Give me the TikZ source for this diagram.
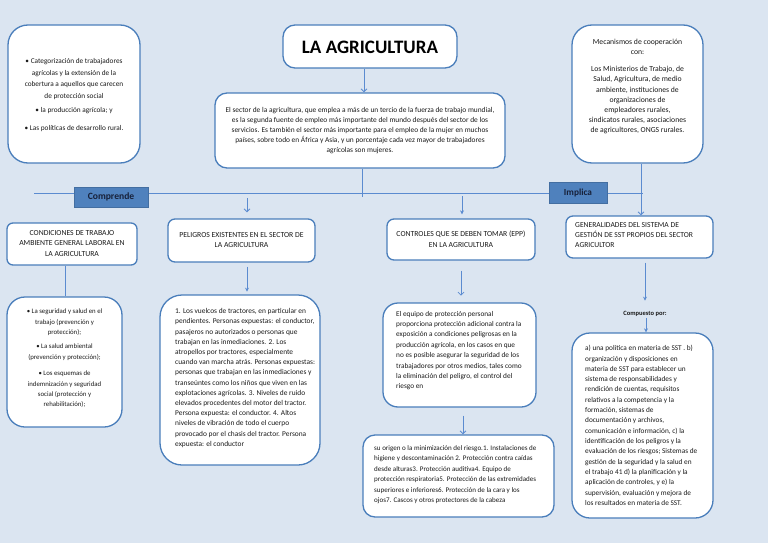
\documentclass[tikz,border=0pt]{standalone}
\usepackage{fontspec}
\setmainfont{Carlito}
\usetikzlibrary{arrows.meta}
\definecolor{bg}{HTML}{DBE5F1}
\definecolor{bd}{HTML}{4A7EBB}
\definecolor{ln}{HTML}{5B8BD0}
\definecolor{lab}{HTML}{4F81BD}
\definecolor{tx}{HTML}{1A1A1A}
\definecolor{labtx}{HTML}{17213A}
\begin{document}
\begin{tikzpicture}[x=1pt,y=-1pt,
  box/.style={draw=bd, line width=1.3pt, fill=white, rounded corners=#1, inner sep=0pt},
  box/.default=8pt,
  labbox/.style={fill=lab, draw=lab!85!black, line width=0.4pt, inner sep=0pt, text=labtx},
  txt/.style 2 args={inner sep=0pt, text=tx, font=\fontsize{#1}{#2}\selectfont},
  conn/.style={draw=ln, line width=0.8pt},
  arro/.style={conn, -{Straight Barb[length=3pt,width=6pt]}},
  arrf/.style={conn, -{Stealth[length=4pt,width=4pt]}}
]
\fill[bg] (0,0) rectangle (768,543);
\useasboundingbox (0,0) rectangle (768,543);

% boxes
\node[box=20pt, minimum width=132pt, minimum height=138pt] (tl) at (74,94) {};
\node[box=12pt, minimum width=174pt, minimum height=43pt] (title) at (370,46.5) {};
\node[box=12pt, minimum width=290pt, minimum height=75pt] (central) at (360,130.5) {};
\node[box=20pt, minimum width=131pt, minimum height=138pt] (tr) at (637.5,94) {};
\node[box=6pt, minimum width=130pt, minimum height=42pt] (cond) at (72,244) {};
\node[box=7pt, minimum width=147pt, minimum height=43pt] (pel) at (241.5,240.5) {};
\node[box=7pt, minimum width=148pt, minimum height=41pt] (ctrl) at (461,239.5) {};
\node[box=7pt, minimum width=147pt, minimum height=42pt] (gen) at (639.5,237) {};
\node[box=18pt, minimum width=115pt, minimum height=130pt] (seg) at (64.5,362) {};
\node[box=22pt, minimum width=160pt, minimum height=170pt] (peltx) at (240,380) {};
\node[box=15pt, minimum width=153pt, minimum height=104pt] (epp) at (459.5,355) {};
\node[box=12pt, minimum width=191pt, minimum height=82pt] (bot) at (458.5,476) {};
\node[box=18pt, minimum width=141pt, minimum height=185pt] (sst) at (642.5,425.5) {};

% horizontal bar
\coordinate (hl) at (34,193);
\coordinate (hr) at (643,193);
\draw[conn] (hl) -- (hr);
\coordinate (cdrop) at (362,197);
\draw[conn] (central.south -| cdrop) -- (cdrop);

\node[labbox, minimum width=74pt, minimum height=20pt, font=\fontsize{9.6}{11}\selectfont\bfseries] (comprende) at (111,197) {Comprende};
\node[labbox, minimum width=58pt, minimum height=21pt, font=\fontsize{9.3}{11}\selectfont\bfseries] (implica) at (578,192.5) {Implica};

% texts
\node[txt={7.3}{11.5}, align=center] (tl-t) at (74,95) {%
• Categorización de trabajadores\\agrícolas y la extensión de la\\cobertura a aquellos que carecen\\de protección social\\[3pt]%
• la producción agrícola; y\\[6pt]%
• Las políticas de desarrollo rural.};

\node[inner sep=0pt, text=black, font=\fontsize{19}{21}\selectfont\bfseries] (title-t) at (370,47) {LA AGRICULTURA};

\node[txt={7.4}{10.2}, align=center] (central-t) at (360,130.5) {%
El sector de la agricultura, que emplea a más de un tercio de la fuerza de trabajo mundial,\\
es la segunda fuente de empleo más importante del mundo después del sector de los\\
servicios. Es también el sector más importante para el empleo de la mujer en muchos\\
países, sobre todo en África y Asia, y un porcentaje cada vez mayor de trabajadores\\
agrícolas son mujeres.};

\node[txt={7.7}{10.1}, align=center] (tr-t) at (637.5,86.5) {%
Mecanismos de cooperación\\con:\\[7pt]%
Los Ministerios de Trabajo, de\\Salud, Agricultura, de medio\\ambiente, instituciones de\\organizaciones de\\empleadores rurales,\\sindicatos rurales, asociaciones\\de agricultores, ONGS rurales.};

\node[txt={7.7}{10.5}, align=center] (cond-t) at (72,243.5) {CONDICIONES DE TRABAJO\\AMBIENTE GENERAL LABORAL EN\\LA AGRICULTURA};
\node[txt={7.7}{10.5}, align=center] (pel-t) at (241.5,240) {PELIGROS EXISTENTES EN EL SECTOR DE\\LA AGRICULTURA};
\node[txt={7.7}{10.5}, align=center] (ctrl-t) at (461,239) {CONTROLES QUE SE DEBEN TOMAR (EPP)\\EN LA AGRICULTURA};
\node[txt={7.6}{10.2}, align=left, anchor=west] (gen-t) at (575,235) {GENERALIDADES DEL SISTEMA DE\\GESTIÓN DE SST PROPIOS DEL SECTOR\\AGRICULTOR};

\node[txt={6.8}{10.3}, align=center] (seg-t) at (64.5,358.5) {%
• La seguridad y salud en el\\trabajo (prevención y\\protección);\\[4pt]%
• La salud ambiental\\(prevención y protección);\\[6.5pt]%
• Los esquemas de\\indemnización y seguridad\\social (protección y\\rehabilitación);};

\node[txt={7.4}{10.2}, align=left, anchor=west] (peltx-t) at (175,378) {%
1. Los vuelcos de tractores, en particular en\\
pendientes. Personas expuestas: el conductor,\\
pasajeros no autorizados o personas que\\
trabajan en las inmediaciones. 2. Los\\
atropellos por tractores, especialmente\\
cuando van marcha atrás. Personas expuestas:\\
personas que trabajan en las inmediaciones y\\
transeúntes como los niños que viven en las\\
explotaciones agrícolas. 3. Niveles de ruido\\
elevados procedentes del motor del tractor.\\
Persona expuesta: el conductor. 4. Altos\\
niveles de vibración de todo el cuerpo\\
provocado por el chasis del tractor. Persona\\
expuesta: el conductor};

\node[txt={7.3}{10.4}, align=left, anchor=west] (epp-t) at (396,350.5) {%
El equipo de protección personal\\
proporciona protección adicional contra la\\
exposición a condiciones peligrosas en la\\
producción agrícola, en los casos en que\\
no es posible asegurar la seguridad de los\\
trabajadores por otros medios, tales como\\
la eliminación del peligro, el control del\\
riesgo en};

\node[txt={7.05}{10.5}, align=left, anchor=west] (bot-t) at (374,474.5) {%
su origen o la minimización del riesgo.1. Instalaciones de\\
higiene y descontaminación 2. Protección contra caídas\\
desde alturas3. Protección auditiva4. Equipo de\\
protección respiratoria5. Protección de las extremidades\\
superiores e inferiores6. Protección de la cara y los\\
ojos7. Cascos y otros protectores de la cabeza};

\node[txt={7.3}{10.33}, align=left, anchor=west] (sst-t) at (585,425.5) {%
a) una política en materia de SST . b)\\
organización y disposiciones en\\
materia de SST para establecer un\\
sistema de responsabilidades y\\
rendición de cuentas, requisitos\\
relativos a la competencia y la\\
formación, sistemas de\\
documentación y archivos,\\
comunicación e información, c) la\\
identificación de los peligros y la\\
evaluación de los riesgos; Sistemas de\\
gestión de la seguridad y la salud en\\
el trabajo 41 d) la planificación y la\\
aplicación de controles, y e) la\\
supervisión, evaluación y mejora de\\
los resultados en materia de SST.};

\node[inner sep=0pt, text=tx, font=\fontsize{6.5}{7}\selectfont\bfseries] (comp) at (645,314) {Compuesto por:};

% connectors
\coordinate (xa) at (364,0);
\coordinate (xb) at (641,0);
\coordinate (xc) at (247,0);
\coordinate (xd) at (462,0);
\coordinate (xe) at (65,0);
\coordinate (xf) at (461,0);
\coordinate (xg) at (463,0);
\coordinate (xh) at (645,0);
\coordinate (xi) at (646,0);
\draw[arro] (title.south -| xa) -- (central.north -| xa);
\draw[arro] (tr.south -| xb) -- (gen.north -| xb);
\draw[arro] (pel.north -| xc) ++(0,-20) -- ++(0,14);
\draw[arrf] (ctrl.north -| xd) ++(0,-22) -- ++(0,18);
\draw[conn] (cond.south -| xe) -- (seg.north -| xe);
\draw[arrf] (pel.south -| xc) ++(0,4) -- ++(0,25);
\draw[arro] (ctrl.south -| xf) ++(0,10) -- ++(0,25);
\draw[arro] (epp.south -| xg) ++(0,8) -- (bot.north -| xg);
\draw[arrf] (gen.south -| xh) ++(0,4) -- ++(0,38);
\draw[arrf] (comp.south -| xi) ++(0,1) -- (sst.north -| xi);
\end{tikzpicture}
\end{document}
